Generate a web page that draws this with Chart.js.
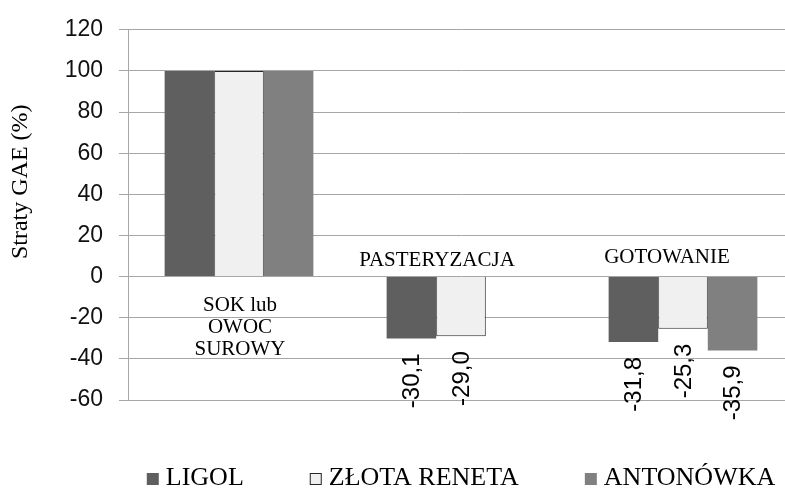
<!DOCTYPE html>
<html>
<head>
<meta charset="utf-8">
<script src="https://cdn.jsdelivr.net/npm/chart.js@4.4.1/dist/chart.umd.min.js"></script>
<style>
  html, body { margin: 0; padding: 0; background: #fff; overflow: hidden; }
  #wrap { width: 800px; height: 490px; }
</style>
</head>
<body>
<div id="wrap"><canvas id="chart" width="800" height="490"></canvas></div>
<script>
// Categories (multi-line names as arrays of lines)
const categories = [['SOK lub', 'OWOC', 'SUROWY'], 'PASTERYZACJA', 'GOTOWANIE'];

// Series names and values (% change of GAE)
const seriesNames = ['LIGOL', 'ZŁOTA RENETA', 'ANTONÓWKA'];
const ligol       = [100, -30.1, -31.8];
const zlotaReneta = [100, -29.0, -25.3];
const antonowka   = [100, null,  -35.9];

// Value axis ticks and title
const yTicks = [120, 100, 80, 60, 40, 20, 0, -20, -40, -60];
const yTitle = 'Straty GAE (%)';

const GRID = '#a6a6a6';
const SERIF = '"Liberation Serif", "Times New Roman", serif';
const SANS = '"Liberation Sans", Arial, sans-serif';

// Rotated value labels under the negative bars
const valueLabels = {
  id: 'valueLabels',
  afterDatasetsDraw(chart, args, opts) {
    const ctx = chart.ctx;
    chart.data.datasets.forEach((ds, di) => {
      const meta = chart.getDatasetMeta(di);
      meta.data.forEach((bar, i) => {
        const v = ds.data[i];
        if (v == null || v >= 0) return;
        ctx.save();
        ctx.translate(bar.x + opts.dx, bar.y + opts.gap);
        ctx.rotate(-Math.PI / 2);
        ctx.font = opts.font;
        ctx.fillStyle = opts.color;
        ctx.textAlign = 'right';
        ctx.textBaseline = 'middle';
        ctx.fillText(v.toFixed(1).replace('.', ','), 0, 0);
        ctx.restore();
      });
    });
  }
};

// Category names placed beside the zero line, axis title and legend row
const annotations = {
  id: 'annotations',
  afterDraw(chart, args, opts) {
    const ctx = chart.ctx;
    const x = chart.scales.x, y = chart.scales.y;
    const area = chart.chartArea;
    const zero = y.getPixelForValue(0);

    ctx.save();
    ctx.fillStyle = '#000';
    ctx.font = opts.categoryFont;
    ctx.textAlign = 'center';
    ctx.textBaseline = 'alphabetic';
    chart.data.labels.forEach((lab, i) => {
      const place = opts.categoryPlacement[i];
      const lines = Array.isArray(lab) ? lab : [lab];
      const cx = x.getPixelForValue(i) + place.dx;
      lines.forEach((line, k) => {
        ctx.fillText(line, cx, zero + place.dy + k * opts.categoryLineHeight);
      });
    });

    // value axis title
    ctx.save();
    ctx.translate(area.left + opts.titleDx, area.top + opts.titleDy);
    ctx.rotate(-Math.PI / 2);
    ctx.font = opts.titleFont;
    ctx.textAlign = 'center';
    ctx.textBaseline = 'middle';
    ctx.fillText(yTitle, 0, 0);
    ctx.restore();

    // legend row centred under the plot area
    ctx.font = opts.legendFont;
    ctx.textAlign = 'left';
    ctx.textBaseline = 'alphabetic';
    const box = opts.legendBox, gapText = opts.legendTextGap, gapItem = opts.legendItemGap;
    const items = chart.data.datasets.map(ds => ({
      ds, w: box + gapText + ctx.measureText(ds.label).width
    }));
    const total = items.reduce((s, it) => s + it.w, 0) + gapItem * (items.length - 1);
    let lx = (area.left + area.right) / 2 - total / 2;
    const base = area.bottom + opts.legendBaseline;
    items.forEach(it => {
      ctx.fillStyle = it.ds.backgroundColor;
      ctx.fillRect(lx, base - box, box, box);
      if (it.ds.borderWidth) {
        ctx.strokeStyle = it.ds.borderColor;
        ctx.lineWidth = 1;
        ctx.strokeRect(lx + 0.5, base - box + 0.5, box - 1, box - 1);
      }
      ctx.fillStyle = '#000';
      ctx.fillText(it.ds.label, lx + box + gapText, base);
      lx += it.w + gapItem;
    });
    ctx.restore();
  }
};

const dataSeries = [ligol, zlotaReneta, antonowka];
const fills = ['#5f5f5f', '#f0f0f0', '#808080'];
const borders = [0, 1, 0];

new Chart(document.getElementById('chart'), {
  type: 'bar',
  data: {
    labels: categories,
    datasets: seriesNames.map((name, i) => ({
      label: name,
      data: dataSeries[i],
      backgroundColor: fills[i],
      borderColor: '#262626',
      borderWidth: borders[i],
      categoryPercentage: 0.67,
      barPercentage: 1.0
    }))
  },
  options: {
    responsive: false,
    animation: false,
    devicePixelRatio: 1,
    layout: { padding: { left: 0, right: 6, top: 26, bottom: 90 } },
    scales: {
      x: {
        display: false
      },
      y: {
        min: yTicks[yTicks.length - 1],
        max: yTicks[0],
        afterBuildTicks: s => { s.ticks = yTicks.map(v => ({ value: v })); },
        afterFit: s => { s.width = 128; },
        ticks: {
          padding: 16,
          color: '#111',
          font: { family: SANS, size: 23 },
          callback: v => String(v)
        },
        grid: { color: GRID, lineWidth: 1, tickLength: 9, drawTicks: true },
        border: { display: true, color: GRID, width: 1 }
      }
    },
    plugins: {
      legend: { display: false },
      tooltip: { enabled: false },
      valueLabels: { font: '24px ' + SANS, color: '#000', gap: 15, dx: 1 },
      annotations: {
        categoryFont: '21px ' + SERIF,
        categoryLineHeight: 22,
        categoryPlacement: [
          { dx: 1, dy: 34 },
          { dx: -24, dy: -11 },
          { dx: -16, dy: -14 }
        ],
        titleFont: '24px ' + SERIF,
        titleDx: -107,
        titleDy: 152,
        legendFont: '26px ' + SERIF,
        legendBox: 12,
        legendTextGap: 7,
        legendItemGap: 66,
        legendBaseline: 85
      }
    }
  },
  plugins: [valueLabels, annotations]
});
</script>
</body>
</html>
